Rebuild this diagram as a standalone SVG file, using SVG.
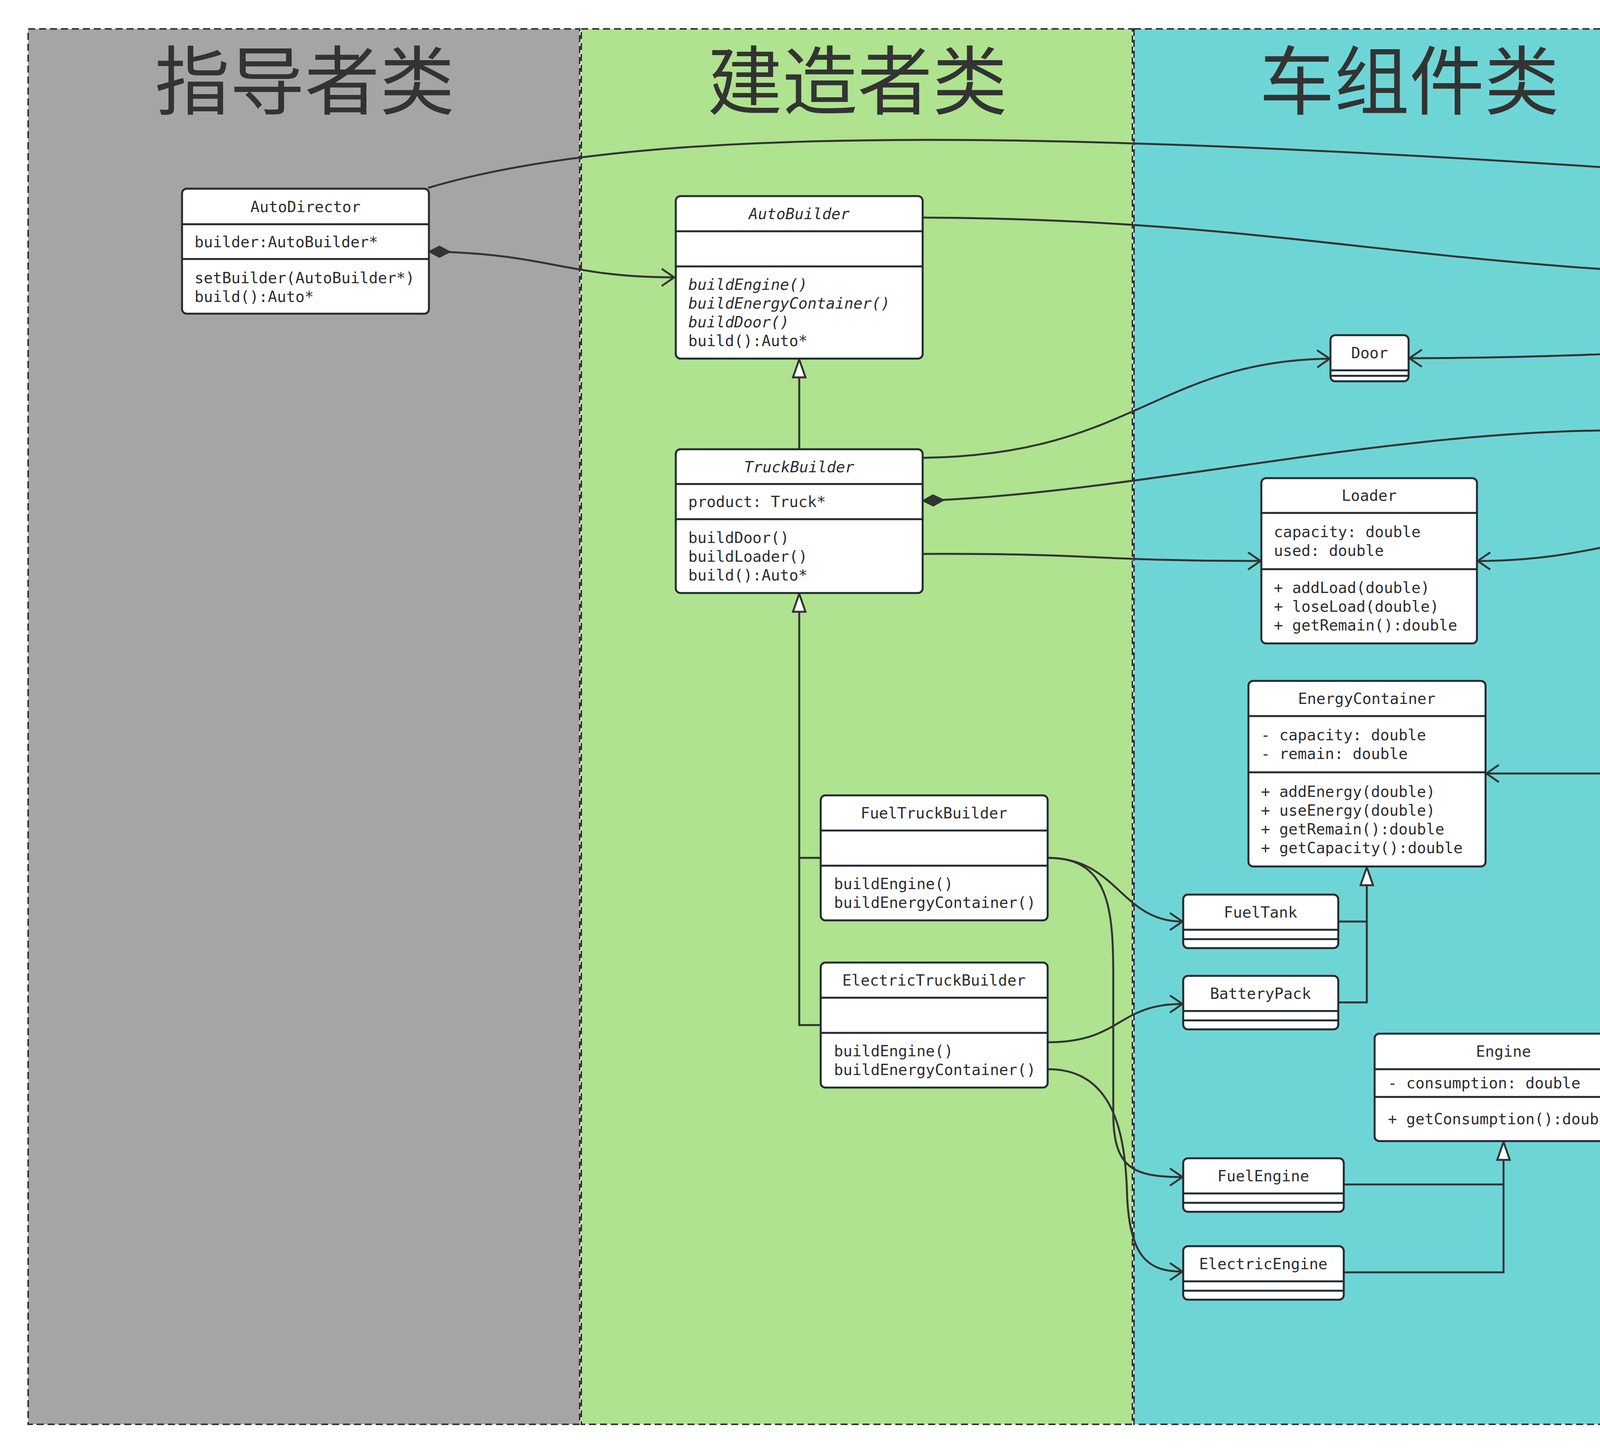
<svg xmlns="http://www.w3.org/2000/svg" width="6249" height="3722" viewBox="0 0 6249 3722">
<style>
.lane{stroke:#333;stroke-width:4;stroke-dasharray:18 10}
.hdr{font-family:"Noto Sans CJK SC","Noto Sans",sans-serif;font-size:192px;fill:#333;text-anchor:middle}
.box{fill:#fff;stroke:#232a31;stroke-width:5}
.dv{stroke:#232a31;stroke-width:5}
.t{font-family:"DejaVu Sans Mono","Liberation Mono",monospace;font-size:39px;fill:#2d2d2d}
.c{text-anchor:middle}
.i{font-style:italic}
.ln{fill:none;stroke:#333;stroke-width:5}
.arr{marker-end:url(#open)}
.tri{marker-end:url(#tri)}
.fd{marker-start:url(#fdia)}
.hd{marker-start:url(#hdia)}
</style>
<defs>
<marker id="open" markerUnits="userSpaceOnUse" markerWidth="60" markerHeight="60" refX="0" refY="0" orient="auto" overflow="visible"><path d="M-32,-22 L0,0 L-32,22" fill="none" stroke="#333" stroke-width="5"/></marker>
<marker id="tri" markerUnits="userSpaceOnUse" markerWidth="60" markerHeight="60" refX="0" refY="0" orient="auto" overflow="visible"><path d="M0,0 L-46,-16 L-46,16 Z" fill="#fff" stroke="#333" stroke-width="5"/></marker>
<marker id="fdia" markerUnits="userSpaceOnUse" markerWidth="60" markerHeight="60" refX="0" refY="0" orient="auto" overflow="visible"><path d="M0,0 L27,-14 L54,0 L27,14 Z" fill="#333" stroke="#333" stroke-width="3"/></marker>
<marker id="hdia" markerUnits="userSpaceOnUse" markerWidth="60" markerHeight="60" refX="0" refY="0" orient="auto" overflow="visible"><path d="M0,0 L27,-14 L54,0 L27,14 Z" fill="#fff" stroke="#333" stroke-width="5"/></marker>
</defs>
<rect width="6249" height="3722" fill="#fff"/>
<g id="lanes">
<rect class="lane" x="72" y="74" width="1412" height="3572" fill="#A5A5A5"/>
<rect class="lane" x="1488" y="74" width="1411" height="3572" fill="#AFE38F"/>
<rect class="lane" x="2903" y="74" width="1407" height="3572" fill="#6ED5D6"/>
<rect class="lane" x="4420" y="74" width="1408" height="3572" fill="#EC716F"/>
<text class="hdr" x="780" y="278">指导者类</text>
<text class="hdr" x="2195" y="278">建造者类</text>
<text class="hdr" x="3608" y="278">车组件类</text>
<text class="hdr" x="5124" y="278">车类</text>
</g>
<g id="connectors">
<path class="ln arr" d="M1096,481 C1700,300 2900,340 4646,465"/>
<path class="ln fd arr" d="M1098,644 C1400,648 1450,710 1726,710"/>
<path class="ln arr" d="M2362,557 C3300,560 3700,705 4646,707"/>
<path class="ln arr" d="M2362,1172 C2900,1165 2960,925 3404,918"/>
<path class="ln hd arr" d="M4648,888 C4300,895 4000,917 3608,917"/>
<path class="ln fd arr" d="M2362,1282 C2900,1262 3500,1110 4100,1102 C4400,1098 4540,1160 4595,1223"/>
<path class="ln arr" d="M2362,1418 C2800,1416 2800,1436 3227,1436"/>
<path class="ln hd arr" d="M4489,1352 C4200,1352 4080,1436 3783,1436"/>
<path class="ln hd arr" d="M5659,566 H6117 V1980 H3805"/>
<path class="ln hd arr" d="M5659,637 H6173 V2783 H4181"/>
<path class="ln tri" d="M2046,1150 V920"/>
<path class="ln" d="M2101,2196 H2046"/>
<path class="ln tri" d="M2101,2624 H2046 V1520"/>
<path class="ln arr" d="M2684,2196 C2860,2196 2870,2359 3027,2359"/>
<path class="ln arr" d="M2684,2196 C2840,2196 2850,2330 2850,2500 L2850,2850 C2850,2990 2900,3013 3027,3013"/>
<path class="ln arr" d="M2684,2668 C2870,2668 2860,2570 3027,2570"/>
<path class="ln arr" d="M2684,2737 C2850,2737 2880,2900 2885,3050 C2890,3220 2940,3255 3027,3255"/>
<path class="ln" d="M3426,2359 H3499"/>
<path class="ln tri" d="M3426,2566 H3499 V2220"/>
<path class="ln" d="M3440,3032 H3849"/>
<path class="ln tri" d="M3440,3257 H3849 V2923"/>
<path class="ln" d="M4824,1225 V1120 H5488 V1224"/>
<path class="ln tri" d="M5153,1120 V1019"/>
</g>
<g id="AutoDirector">
<rect class="box" x="466" y="483" width="632" height="320" rx="12"/>
<line class="dv" x1="466" y1="574" x2="1098" y2="574"/>
<line class="dv" x1="466" y1="663" x2="1098" y2="663"/>
<text class="t c" x="782" y="543">AutoDirector</text>
<text class="t" x="498" y="633">builder:AutoBuilder*</text>
<text class="t" x="498" y="725">setBuilder(AutoBuilder*)</text>
<text class="t" x="498" y="773">build():Auto*</text>
</g>
<g id="AutoBuilder">
<rect class="box" x="1730" y="502" width="632" height="416" rx="12"/>
<line class="dv" x1="1730" y1="592" x2="2362" y2="592"/>
<line class="dv" x1="1730" y1="682" x2="2362" y2="682"/>
<text class="t c i" x="2046" y="561">AutoBuilder</text>
<text class="t i" x="1762" y="742">buildEngine()</text>
<text class="t i" x="1762" y="790">buildEnergyContainer()</text>
<text class="t i" x="1762" y="838">buildDoor()</text>
<text class="t" x="1762" y="886">build():Auto*</text>
</g>
<g id="TruckBuilder">
<rect class="box" x="1730" y="1150" width="632" height="368" rx="12"/>
<line class="dv" x1="1730" y1="1239" x2="2362" y2="1239"/>
<line class="dv" x1="1730" y1="1329" x2="2362" y2="1329"/>
<text class="t c i" x="2046" y="1209">TruckBuilder</text>
<text class="t" x="1762" y="1298">product: Truck*</text>
<text class="t" x="1762" y="1390">buildDoor()</text>
<text class="t" x="1762" y="1438">buildLoader()</text>
<text class="t" x="1762" y="1486">build():Auto*</text>
</g>
<g id="FuelTruckBuilder">
<rect class="box" x="2101" y="2036" width="581" height="320" rx="12"/>
<line class="dv" x1="2101" y1="2126" x2="2682" y2="2126"/>
<line class="dv" x1="2101" y1="2216" x2="2682" y2="2216"/>
<text class="t c" x="2391" y="2095">FuelTruckBuilder</text>
<text class="t" x="2135" y="2276">buildEngine()</text>
<text class="t" x="2135" y="2324">buildEnergyContainer()</text>
</g>
<g id="ElectricTruckBuilder">
<rect class="box" x="2101" y="2464" width="581" height="320" rx="12"/>
<line class="dv" x1="2101" y1="2554" x2="2682" y2="2554"/>
<line class="dv" x1="2101" y1="2644" x2="2682" y2="2644"/>
<text class="t c" x="2391" y="2523">ElectricTruckBuilder</text>
<text class="t" x="2135" y="2704">buildEngine()</text>
<text class="t" x="2135" y="2752">buildEnergyContainer()</text>
</g>
<g id="Door">
<rect class="box" x="3406" y="858" width="200" height="118" rx="12"/>
<line class="dv" x1="3406" y1="948" x2="3606" y2="948"/>
<line class="dv" x1="3406" y1="962" x2="3606" y2="962"/>
<text class="t c" x="3506" y="917">Door</text>
</g>
<g id="Loader">
<rect class="box" x="3229" y="1224" width="552" height="423" rx="12"/>
<line class="dv" x1="3229" y1="1313" x2="3781" y2="1313"/>
<line class="dv" x1="3229" y1="1457" x2="3781" y2="1457"/>
<text class="t c" x="3505" y="1282">Loader</text>
<text class="t" x="3261" y="1375">capacity: double</text>
<text class="t" x="3261" y="1423">used: double</text>
<text class="t" x="3261" y="1518">+ addLoad(double)</text>
<text class="t" x="3261" y="1566">+ loseLoad(double)</text>
<text class="t" x="3261" y="1614">+ getRemain():double</text>
</g>
<g id="EnergyContainer">
<rect class="box" x="3196" y="1743" width="607" height="475" rx="12"/>
<line class="dv" x1="3196" y1="1833" x2="3803" y2="1833"/>
<line class="dv" x1="3196" y1="1977" x2="3803" y2="1977"/>
<text class="t c" x="3499" y="1802">EnergyContainer</text>
<text class="t" x="3228" y="1895">- capacity: double</text>
<text class="t" x="3228" y="1943">- remain: double</text>
<text class="t" x="3228" y="2040">+ addEnergy(double)</text>
<text class="t" x="3228" y="2088">+ useEnergy(double)</text>
<text class="t" x="3228" y="2136">+ getRemain():double</text>
<text class="t" x="3228" y="2184">+ getCapacity():double</text>
</g>
<g id="FuelTank">
<rect class="box" x="3029" y="2290" width="397" height="137" rx="12"/>
<line class="dv" x1="3029" y1="2380" x2="3426" y2="2380"/>
<line class="dv" x1="3029" y1="2404" x2="3426" y2="2404"/>
<text class="t c" x="3227" y="2349">FuelTank</text>
</g>
<g id="BatteryPack">
<rect class="box" x="3029" y="2498" width="397" height="137" rx="12"/>
<line class="dv" x1="3029" y1="2588" x2="3426" y2="2588"/>
<line class="dv" x1="3029" y1="2612" x2="3426" y2="2612"/>
<text class="t c" x="3227" y="2557">BatteryPack</text>
</g>
<g id="Engine">
<rect class="box" x="3519" y="2646" width="660" height="275" rx="12"/>
<line class="dv" x1="3519" y1="2737" x2="4179" y2="2737"/>
<line class="dv" x1="3519" y1="2808" x2="4179" y2="2808"/>
<text class="t c" x="3849" y="2705">Engine</text>
<text class="t" x="3553" y="2786">- consumption: double</text>
<text class="t" x="3553" y="2878">+ getConsumption():double</text>
</g>
<g id="FuelEngine">
<rect class="box" x="3029" y="2965" width="411" height="137" rx="12"/>
<line class="dv" x1="3029" y1="3055" x2="3440" y2="3055"/>
<line class="dv" x1="3029" y1="3079" x2="3440" y2="3079"/>
<text class="t c" x="3234" y="3024">FuelEngine</text>
</g>
<g id="ElectricEngine">
<rect class="box" x="3029" y="3190" width="411" height="137" rx="12"/>
<line class="dv" x1="3029" y1="3280" x2="3440" y2="3280"/>
<line class="dv" x1="3029" y1="3304" x2="3440" y2="3304"/>
<text class="t c" x="3234" y="3249">ElectricEngine</text>
</g>
<g id="Auto">
<rect class="box" x="4648" y="396" width="1011" height="621" rx="12"/>
<line class="dv" x1="4648" y1="485" x2="5659" y2="485"/>
<line class="dv" x1="4648" y1="677" x2="5659" y2="677"/>
<text class="t c" x="5153" y="454">Auto</text>
<text class="t" x="4680" y="547">- doors: vector&lt;Door*&gt;</text>
<text class="t" x="4680" y="595">- engines: vector&lt;Engine*&gt;</text>
<text class="t" x="4680" y="643">- containers: vector&lt;EnergyContainer*&gt;</text>
<text class="t" x="4680" y="741">+ charge(): double</text>
<text class="t" x="4680" y="789">+ run(double):double</text>
<text class="t" x="4680" y="885">+ addDoor(Door *)</text>
<text class="t" x="4680" y="933">+ addEnergy(EnergyContainer *)</text>
<text class="t" x="4680" y="981">+ addEngine(Engine *)</text>
</g>
<g id="Truck">
<rect class="box" x="4489" y="1225" width="670" height="421" rx="12"/>
<line class="dv" x1="4489" y1="1315" x2="5159" y2="1315"/>
<line class="dv" x1="4489" y1="1407" x2="5159" y2="1407"/>
<text class="t c" x="4824" y="1284">Truck</text>
<text class="t" x="4521" y="1375">- loaders: vector&lt;Loader*&gt;</text>
<text class="t" x="4521" y="1468">+ load(int,int):void</text>
<text class="t" x="4521" y="1516">+ lose(int,int):void</text>
<text class="t" x="4521" y="1612">+ addLoader(Loader*):void</text>
</g>
<g id="Car">
<rect class="box" x="5210" y="1224" width="555" height="423" rx="12"/>
<line class="dv" x1="5210" y1="1313" x2="5765" y2="1313"/>
<line class="dv" x1="5210" y1="1457" x2="5765" y2="1457"/>
<text class="t c" x="5487" y="1282">Car</text>
<text class="t" x="5242" y="1375">- population: int</text>
<text class="t" x="5242" y="1423">- capacity: int</text>
<text class="t" x="5242" y="1518">+ onBoard(int)</text>
<text class="t" x="5242" y="1566">+ offBoard(int)</text>
<text class="t" x="5242" y="1614">+ getPopulation():int</text>
</g>
</svg>
